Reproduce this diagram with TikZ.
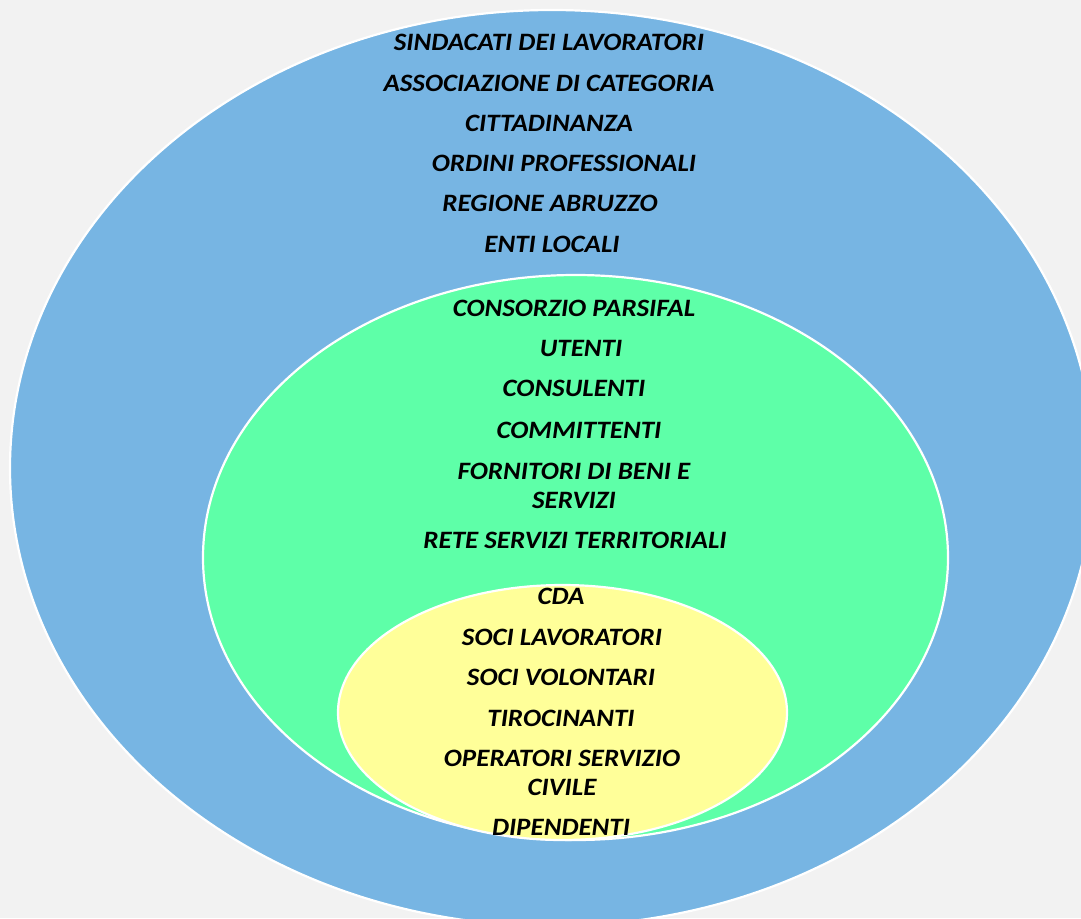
\documentclass[tikz,border=0pt]{standalone}
\usepackage{fontspec}
\setmainfont{Carlito}[FakeStretch=1.08]
\definecolor{bgcol}{HTML}{F2F2F2}
\definecolor{outercol}{HTML}{77B5E3}
\definecolor{middlecol}{HTML}{5EFFA8}
\definecolor{innercol}{HTML}{FFFF99}
\tikzset{
  ring/.style={draw=white, line width=2.2pt},
  lbl/.style={inner sep=0pt, align=center, text=black,
    font=\fontsize{25}{29}\selectfont\bfseries\itshape}
}
\begin{document}
\begin{tikzpicture}[x=1pt,y=-1pt]
  % page and background
  \useasboundingbox (0,0) rectangle (1081,918);
  \fill[bgcol] (0,0) rectangle (1081,918);
  \clip (0,0) rectangle (1081,918);

  % three nested ellipses
  \filldraw[ring, fill=outercol] (552,468) ellipse [x radius=542, y radius=458];
  \filldraw[ring, fill=middlecol] (575.5,557.5) ellipse [x radius=372.5, y radius=282.5];
  \filldraw[ring, fill=innercol] (562.5,712.5) ellipse [x radius=224.5, y radius=127.5];

  % outer ring
  \node[lbl] (sind) at (549,42) {SINDACATI DEI LAVORATORI};
  \node[lbl] (assoc) at (549,83) {ASSOCIAZIONE DI CATEGORIA};
  \node[lbl] (citt) at (549,123) {CITTADINANZA};
  \node[lbl] (ordini) at (564,163) {ORDINI PROFESSIONALI};
  \node[lbl] (regione) at (550,203) {REGIONE ABRUZZO};
  \node[lbl] (enti) at (552,244) {ENTI LOCALI};

  % middle ring
  \node[lbl] (cons) at (574,308) {CONSORZIO PARSIFAL};
  \node[lbl] (utenti) at (581,348) {UTENTI};
  \node[lbl] (consul) at (574,388) {CONSULENTI};
  \node[lbl] (commit) at (579,430) {COMMITTENTI};
  \node[lbl] (fornit) at (574,486) {FORNITORI DI BENI E\\SERVIZI};
  \node[lbl] (rete) at (575,540) {RETE SERVIZI TERRITORIALI};

  % inner ring
  \node[lbl] (cda) at (561,596) {CDA};
  \node[lbl] (soclav) at (562,637) {SOCI LAVORATORI};
  \node[lbl] (socvol) at (561,677) {SOCI VOLONTARI};
  \node[lbl] (tiroc) at (561,718) {TIROCINANTI};
  \node[lbl] (operat) at (562,772.5) {OPERATORI SERVIZIO\\CIVILE};
  \node[lbl] (dipend) at (561,827) {DIPENDENTI};
\end{tikzpicture}
\end{document}
